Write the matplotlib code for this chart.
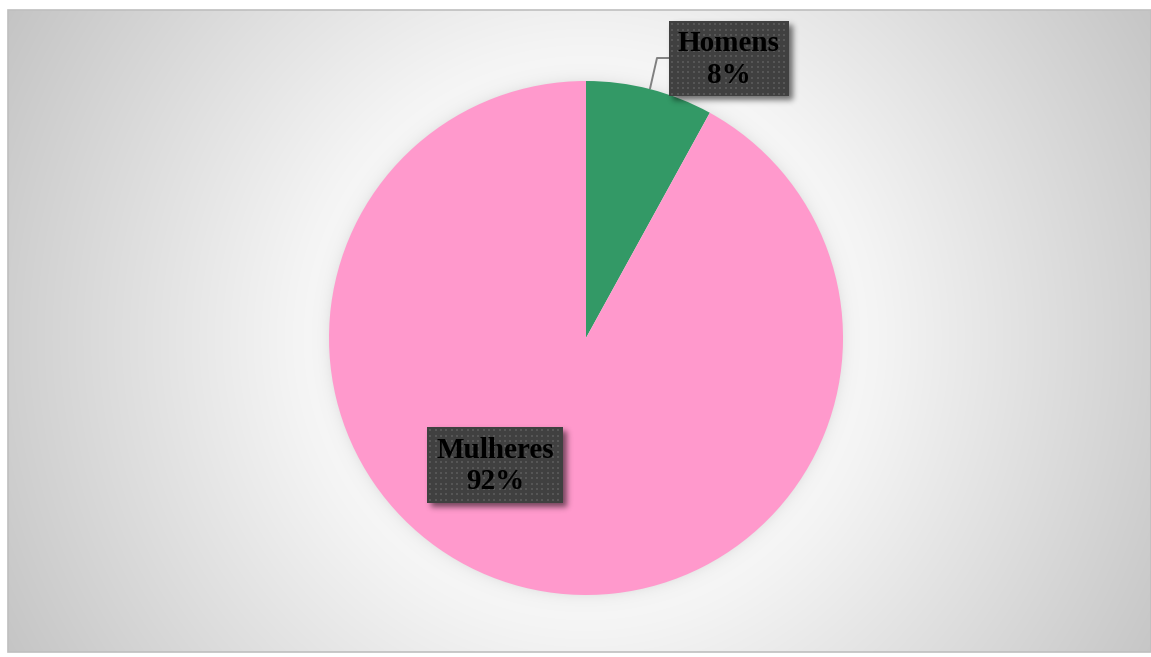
import numpy as np
import matplotlib
matplotlib.use("Agg")
import matplotlib.pyplot as plt
from matplotlib.patches import Rectangle

# Data
categories = ["Homens", "Mulheres"]
values = [8, 92]
colors = ["#339966", "#FF99CC"]

W, H = 1151, 657
fig = plt.figure(figsize=(W / 100, H / 100), dpi=100)
ax = fig.add_axes([0, 0, 1, 1])

# chart area in pixel coordinates (image-style y down)
AX0, AY0, AX1, AY1 = 8, 10, 1151, 652
CX, CY, R = 586, 338, 257


def up(y):
    return H - y


def blur1d(a, sigma, axis):
    k = int(3 * sigma) + 1
    x = np.arange(-k, k + 1)
    g = np.exp(-x ** 2 / (2 * sigma ** 2))
    g /= g.sum()
    return np.apply_along_axis(lambda v: np.convolve(v, g, mode="same"), axis, a)


def blur(a, sigma):
    return blur1d(blur1d(a, sigma, 0), sigma, 1)


# radial gradient background with a soft glow around the pie
yy, xx = np.mgrid[AY0:AY1, AX0:AX1] + 0.5
r = np.hypot(xx - CX, yy - CY)
c = np.interp(r, [0, 260, 286, 665, 800], [252, 248, 245, 196, 185])
halo = np.where(r > R - 2, 16 * np.exp(-np.clip(r - R, 0, None) / 7.0), 0)
c = (c - halo) / 255.0
bg = np.dstack([c, c, c])
ax.imshow(bg, extent=(AX0, AX1, up(AY1), up(AY0)), origin="upper",
          interpolation="nearest", zorder=0)
ax.add_patch(Rectangle((AX0, up(AY1)), AX1 - AX0, AY1 - AY0, fill=False,
                       ec="#bfbfbf", lw=1.2, zorder=1))

# pie, clockwise from 12 o'clock
wedges, _ = ax.pie(values, colors=colors, startangle=90, counterclock=False,
                   center=(CX, up(CY)), radius=R,
                   wedgeprops=dict(linewidth=0), frame=True)
for w in wedges:
    w.set_zorder(2)

ax.set_xlim(0, W)
ax.set_ylim(0, H)
ax.set_aspect("equal")
ax.axis("off")

total = float(sum(values))


def label_box(x0, y0, x1, y1, text):
    w, h = x1 - x0, y1 - y0
    # drop shadow
    pad = 16
    sh = np.zeros((h + 2 * pad, w + 2 * pad))
    sh[pad + 4:pad + 4 + h, pad + 4:pad + 4 + w] = 1.0
    sh = blur(sh, 3.0) * 0.55
    rgba = np.zeros(sh.shape + (4,))
    rgba[..., 3] = sh
    ax.imshow(rgba, extent=(x0 - pad, x1 + pad, up(y1 + pad), up(y0 - pad)),
              origin="upper", interpolation="bilinear", zorder=3)
    # dotted dark fill
    fill = np.full((h, w, 3), 0x40 / 255.0)
    step = 16 / 3.0
    for yd in np.arange(2.5, h - 1, step):
        for xd in np.arange(2.5, w - 1, step):
            iy, ix = int(round(yd)), int(round(xd))
            fill[iy:iy + 2, ix:ix + 2] = 0x56 / 255.0
    ax.imshow(fill, extent=(x0, x1, up(y1), up(y0)), origin="upper",
              interpolation="nearest", zorder=4)
    ax.text((x0 + x1) / 2, up((y0 + y1) / 2 + 1), text, ha="center",
            va="center", fontsize=21, fontweight="bold",
            family="Liberation Serif", color="black", linespacing=1.2,
            zorder=5)


# leader line from the middle of the small slice to its label
mid = 90 - 360 * (values[0] / 2) / total
sx = CX + R * np.cos(np.radians(mid))
sy = up(CY) + R * np.sin(np.radians(mid))
ax.plot([sx, 657, 669], [sy, up(58), up(58)], color="#808080", lw=1.4,
        zorder=3, solid_capstyle="butt")

label_box(669, 21, 789, 96,
          f"{categories[0]}\n{round(100 * values[0] / total)}%")
label_box(427, 427, 563, 503,
          f"{categories[1]}\n{round(100 * values[1] / total)}%")

fig.savefig("out.png", dpi=100, facecolor="white")
